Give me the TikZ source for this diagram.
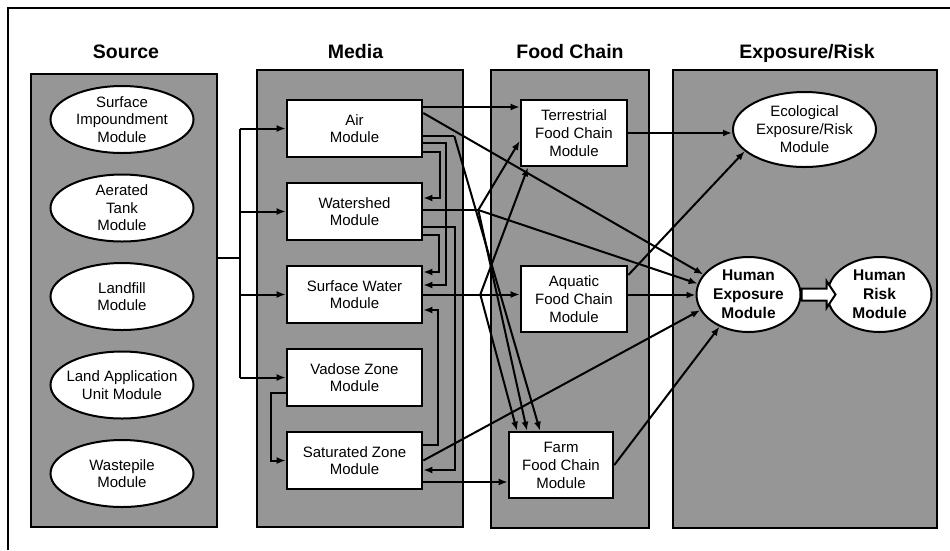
\documentclass[tikz,border=0pt]{standalone}
\usepackage{fontspec}
\setmainfont{Liberation Sans}
\usepackage{tikz}
\usetikzlibrary{positioning,calc,shapes.geometric,arrows.meta}
\definecolor{panelgray}{RGB}{150,150,150}

\begin{document}
\begin{tikzpicture}[x=1pt,y=-1pt,
		panel/.style={draw=black,fill=panelgray,line width=2.6pt},
		paneltitle/.style={font=\fontsize{19.5}{22}\selectfont\bfseries,text height=14pt,text depth=0pt,inner sep=0pt},
		srcmod/.style={ellipse,draw=black,fill=white,line width=2pt,minimum width=143pt,minimum height=67pt,inner sep=-8pt,align=center,font=\fontsize{15}{17.5}\selectfont},
		medmod/.style={draw=black,fill=white,line width=2.6pt,minimum width=135pt,minimum height=57pt,inner sep=0pt,align=center,font=\fontsize{15}{17.5}\selectfont},
		foodmod/.style={draw=black,fill=white,line width=2.6pt,minimum width=106pt,minimum height=66pt,inner sep=0pt,align=center,font=\fontsize{15}{18}\selectfont},
		expmod/.style={ellipse,draw=black,fill=white,line width=2pt,minimum height=75pt,inner sep=-8pt,align=center,font=\fontsize{15}{18}\selectfont},
		humod/.style={expmod,minimum width=104pt,font=\fontsize{15.5}{19}\selectfont\bfseries},
		conn/.style={line width=2pt},
		arr/.style={conn,-{Latex[length=9pt,width=7pt]}},
		fatarrow/.style={draw=black,fill=white,line width=2pt,line join=miter}]
		\useasboundingbox (0,0) rectangle (950,550);
		\draw[line width=2.6pt] (8,550) -- (8,8) -- (950,8);
		
		\node[panel,minimum width=186pt,minimum height=453pt] (srcpanel) at (124,300.5) {};
		\node[panel,minimum width=206pt,minimum height=457pt] (medpanel) at (360,298.5) {};
		\node[panel,minimum width=158pt,minimum height=458pt] (foodpanel) at (570,299) {};
		\node[panel,minimum width=264pt,minimum height=458pt] (exppanel) at (805,299) {};
		
		\node[paneltitle,above=14.4pt of srcpanel,xshift=2pt] (srctitle) {Source};
		\node[paneltitle,above=10.4pt of medpanel,xshift=-4.5pt] (medtitle) {Media};
		\node[paneltitle,above=10.4pt of foodpanel] (foodtitle) {Food Chain};
		\node[paneltitle,above=10.4pt of exppanel,xshift=2pt] (exptitle) {Exposure/Risk};
		
		\node[srcmod] (surfimp) at (122,119.5) {Surface\\Impoundment\\Module};
		\node[srcmod,below=19.5pt of surfimp] (aertank) {Aerated\\Tank\\Module};
		\node[srcmod,below=19.5pt of aertank] (landfill) {Landfill\\Module};
		\node[srcmod,below=19.5pt of landfill] (landapp) {Land Application\\Unit Module};
		\node[srcmod,below=19.5pt of landapp] (wastepile) {Wastepile\\Module};
		
		\node[medmod] (air) at (354.5,128.5) {Air\\Module};
		\node[medmod,below=23.4pt of air] (wshed) {Watershed\\Module};
		\node[medmod,below=23.4pt of wshed] (swater) {Surface Water\\Module};
		\node[medmod,below=23.4pt of swater] (vadose) {Vadose Zone\\Module};
		\node[medmod,below=23.4pt of vadose] (satzone) {Saturated Zone\\Module};
		
		\node[foodmod] (terrfc) at (574,133) {Terrestrial\\Food Chain\\Module};
		\node[foodmod,below=97.4pt of terrfc] (aquafc) {Aquatic\\Food Chain\\Module};
		\node[foodmod,minimum width=104pt] (farmfc) at (561,465) {Farm\\Food Chain\\Module};
		
		\node[expmod,minimum width=143pt] (ecorisk) at (804.5,129.5) {Ecological\\Exposure/Risk\\Module};
		\node[humod] (humexp) at (748.5,294.5) {Human\\Exposure\\Module};
		\node[humod,right=25pt of humexp] (humrisk) {Human\\Risk\\Module};
		\draw[fatarrow] ([yshift=6pt]humexp.east) -- ++(25,0) -- ++(0,-7.5) -- ++(9,13.5) -- ++(-9,13.5) -- ++(0,-7.5) -- ++(-25,0) -- cycle;
		
		\draw[conn] ([yshift=42.5pt]srcpanel.east) -- ++(22,0) coordinate (bus);
		\draw[conn] (bus |- air.west) -- (bus |- vadose.west);
		\draw[arr] (bus |- air.west) -- (air.west);
		\draw[arr] (bus |- wshed.west) -- (wshed.west);
		\draw[arr] (bus |- swater.west) -- (swater.west);
		\draw[arr] (bus |- vadose.west) -- (vadose.west);
		
		\draw[arr] ([yshift=-15pt]vadose.west) -- ++(-15,0) |- (satzone.west);
		
		\draw[arr] ([yshift=21.5pt]air.east) -- ([yshift=21.5pt]air.east -| terrfc.west);
		\draw[arr] ([yshift=15.5pt]air.east) -- (humexp.156);
		\draw[conn] ([yshift=-7.5pt]air.east) -- ++(31,0) coordinate (airfarm);
		\draw[arr] (airfarm) -- ([xshift=-21pt]farmfc.north);
		\draw[arr] ([yshift=-14.5pt]air.east) -- ++(23,0) |- ([yshift=9.5pt]swater.east);
		\draw[arr] ([yshift=-23.5pt]air.east) -- ++(17,0) |- ([yshift=13.5pt]wshed.east);
		
		\draw[conn] ([yshift=1.5pt]wshed.east) -- ++(55,0) coordinate (wsbr);
		\draw[arr] (wsbr) -- ([yshift=-8pt]terrfc.west);
		\draw[arr] (wsbr) -- (humexp.168);
		\draw[arr] (wsbr) -- ([xshift=-34pt]farmfc.north);
		\draw[arr] ([yshift=-15.5pt]wshed.east) -- ++(32,0) |- ([yshift=-9.5pt]satzone.east);
		\draw[arr] ([yshift=-23.5pt]wshed.east) -- ++(16,0) |- ([yshift=22.5pt]swater.east);
		
		\draw[arr] (swater.east) -- (swater.east -| aquafc.west);
		\draw[conn] (swater.east) -- ++(57,0) coordinate (swbr);
		\draw[arr] (swbr) -- ([xshift=-46pt]terrfc.south);
		\draw[arr] (swbr) -- ([xshift=-44pt]farmfc.north);
		
		\draw[arr] ([yshift=15.5pt]satzone.east) -- ++(15,0) |- ([yshift=-15.5pt]swater.east);
		\draw[arr] (satzone.east) -- (humexp.198);
		\draw[arr] ([yshift=-21.5pt]satzone.east) -- ([yshift=-21.5pt]satzone.east -| farmfc.west);
		
		\draw[arr] (terrfc.east) -- (terrfc.east -| ecorisk.west);
		\draw[arr] ([yshift=24pt]aquafc.east) -- (ecorisk.200);
		\draw[arr] ([yshift=4pt]aquafc.east) -- ([yshift=4pt]aquafc.east -| humexp.west);
		\draw[arr] (farmfc.east) -- (humexp.228);
	\end{tikzpicture}
\end{document}
